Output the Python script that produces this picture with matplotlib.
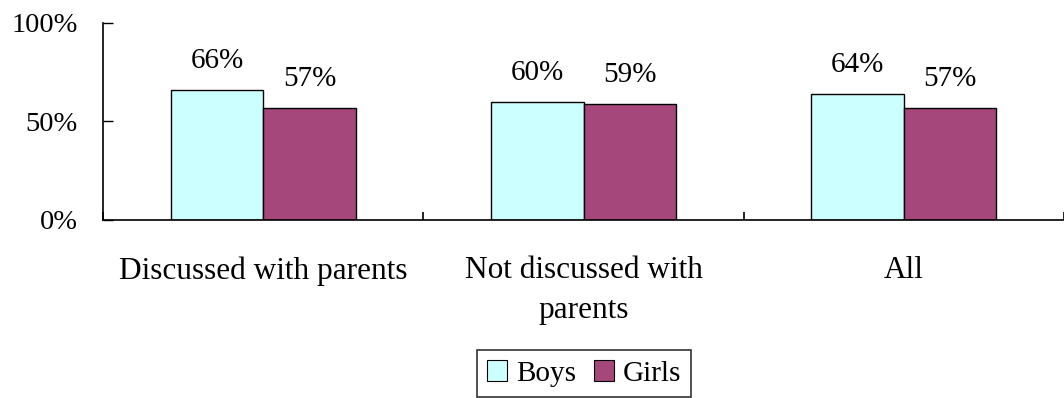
import numpy as np
import matplotlib
matplotlib.use("Agg")
import matplotlib.pyplot as plt
from matplotlib.patches import Patch

# survey shares by group
categories = ["Discussed with parents", "Not discussed with\nparents", "All"]
boys = [0.66, 0.60, 0.64]
girls = [0.57, 0.59, 0.57]
y_ticks = [0, 0.5, 1.0]
y_labels = ["0%", "50%", "100%"]

plt.rcParams['font.family'] = ['Liberation Serif', 'DejaVu Serif']

fig = plt.figure(figsize=(10.64, 3.98), dpi=100)
ax = fig.add_axes([103 / 1064, 1 - 220 / 398, 961 / 1064, 197 / 398])

x = np.arange(len(categories))
w = 0.289
boys_color = '#CCFFFF'
girls_color = '#A5477A'

b1 = ax.bar(x - w / 2, boys, w, color=boys_color, edgecolor='black', linewidth=1)
b2 = ax.bar(x + w / 2, girls, w, color=girls_color, edgecolor='black', linewidth=1)

# value labels above each bar
for rects, vals in ((b1, boys), (b2, girls)):
    for r, v in zip(rects, vals):
        ax.annotate(f"{v:.0%}", (r.get_x() + r.get_width() / 2, v),
                    xytext=(0, 29), textcoords='offset pixels',
                    ha='center', va='center', fontsize=21)

ax.set_xlim(-0.5, len(categories) - 0.5)
ax.set_ylim(0, 1)

ax.set_yticks(y_ticks)
ax.set_yticklabels(y_labels)
ax.tick_params(axis='y', direction='in', length=7, width=1, pad=18, labelsize=20.5)

# category boundaries get the tick marks, centres get the labels
ax.set_xticks(np.arange(len(categories) + 1) - 0.5)
ax.set_xticklabels([])
ax.tick_params(axis='x', which='major', direction='in', length=6, width=1.2)
ax.set_xticks(x, minor=True)
ax.set_xticklabels(categories, minor=True, linespacing=1.5)
ax.tick_params(axis='x', which='minor', length=0, pad=26, labelsize=22.5)

for s in ('top', 'right'):
    ax.spines[s].set_visible(False)
for s in ('left', 'bottom'):
    ax.spines[s].set_linewidth(1.2)

handles = [Patch(facecolor=boys_color, edgecolor='black', linewidth=0.8, label='Boys'),
           Patch(facecolor=girls_color, edgecolor='black', linewidth=0.8, label='Girls')]
leg = fig.legend(handles=handles, loc='upper center', bbox_to_anchor=(584 / 1064, 1 - 350 / 398),
                 ncol=2, fontsize=21, frameon=True, fancybox=False, edgecolor='black',
                 handlelength=0.7, handleheight=0.7, handletextpad=0.3, columnspacing=0.6,
                 borderpad=0.35, borderaxespad=0)
leg.get_frame().set_linewidth(1.2)

fig.savefig('out.png', dpi=100)
